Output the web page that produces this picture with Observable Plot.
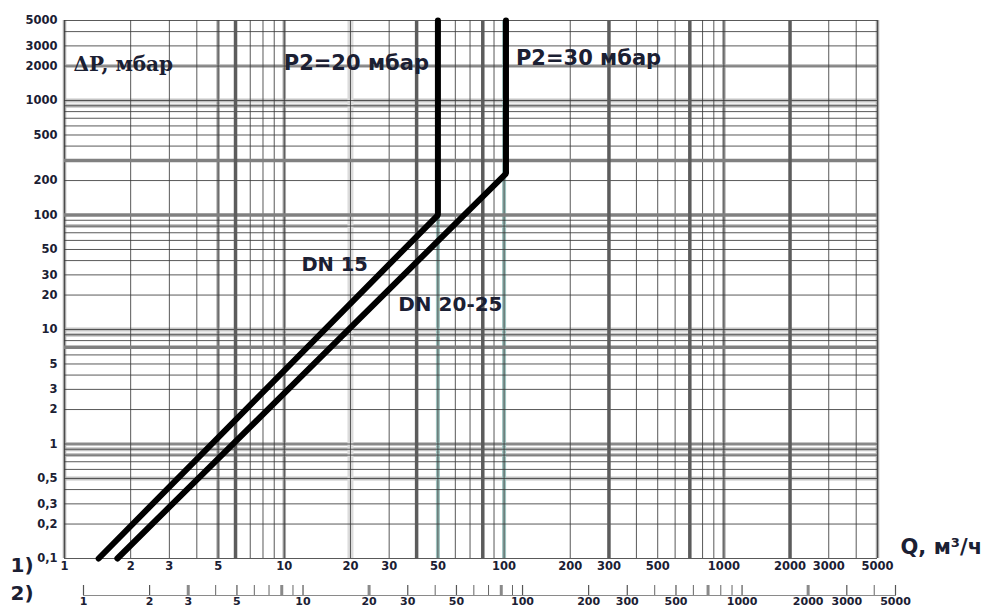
<!DOCTYPE html>
<html><head><meta charset="utf-8">
<script src="https://cdn.jsdelivr.net/npm/d3@7"></script>
<script src="https://cdn.jsdelivr.net/npm/@observablehq/plot@0.6"></script>
<style>
html,body{margin:0;padding:0;background:#fff;}
#chart svg{display:block;}
</style></head><body><div id="chart"></div>
<script>
// ---- data ----
const qGrid = [1,2,3,4,5,6,7,8,9,10,20,30,40,50,60,70,80,90,100,200,300,400,500,600,700,800,900,1000,2000,3000,4000,5000];
const qGridPale = [1,5,10,1000,5000];
const qGridFaint = [20];
const qGridHeavy = [6,40,80,300,700,2000];
const qGridTeal = [50,100];
const pGrid = [0.1,0.2,0.3,0.4,0.5,0.6,0.7,0.8,0.9,1,2,3,4,5,6,7,8,9,10,20,30,40,50,60,70,80,90,100,200,300,400,500,600,700,800,900,1000,2000,3000,4000,5000];
const pGridPale = [0.5,0.8,0.9,1,9,10,80,900,1000,2000];
const pGridHeavy = [7,100,300];
const pTicks = [0.1,0.2,0.3,0.5,1,2,3,5,10,20,30,50,100,200,500,1000,2000,3000,5000];
const qTicks1 = [1,2,3,5,10,20,30,50,100,200,300,500,1000,2000,3000,5000];
const qTicks2 = [1,2,3,5,10,20,30,50,100,200,300,500,1000,2000,3000,5000];
const qTicks2Minor = [4,6,7,8,9,40,60,70,80,90,400,600,700,800,900,4000];
const qTicks2Heavy = [3,8,20,80,700,2000];
const dn15 = [{q:1.43,p:0.1},{q:50,p:100},{q:50,p:5000}];
const dn2025 = [{q:1.74,p:0.1},{q:102,p:230},{q:102,p:5000}];
const regimeEnd = [{text:"P2=20 мбар", q:50, p:2100}];
const regimeStart = [{text:"P2=30 мбар", q:102, p:2350}];
const dnEnd = [{text:"DN 15", q:24, p:37}];
const dnStart = [{text:"DN 20-25", q:33, p:16.4}];

const ink = "#1b2033";
const fmt = d => String(d).replace(".", ",");
const sans = "DejaVu Sans";

const main = Plot.plot({
  width: 988, height: 580,
  marginLeft: 64, marginRight: 111, marginTop: 20, marginBottom: 22,
  x: {type: "log", domain: [1, 5000], label: null, axis: null},
  y: {type: "log", domain: [0.1, 5000], label: null, axis: null},
  style: {fontFamily: sans, color: ink, background: "#fff", overflow: "visible"},
  marks: [
    Plot.ruleY(pGridPale, {stroke: "#c4c4c4", strokeWidth: 4}),
    Plot.ruleX(qGridFaint, {stroke: "#dcdcdc", strokeWidth: 6}),
    Plot.ruleX(qGridPale, {stroke: "#a8a8a8", strokeWidth: 3.5}),
    Plot.ruleX(qGridTeal, {stroke: "#9fc3bf", strokeWidth: 4}),
    Plot.ruleY(pGrid, {stroke: "#3c3c3c", strokeWidth: 1, strokeOpacity: 0.85}),
    Plot.ruleX(qGrid, {stroke: "#3c3c3c", strokeWidth: 1, strokeOpacity: 0.85}),
    Plot.ruleY(pGridHeavy, {stroke: "#808080", strokeWidth: 3.5}),
    Plot.ruleX(qGridHeavy, {stroke: "#5c5c5c", strokeWidth: 3.5}),
    Plot.line(dn15, {x: "q", y: "p", stroke: "#000", strokeWidth: 6, strokeLinejoin: "miter"}),
    Plot.line(dn2025, {x: "q", y: "p", stroke: "#000", strokeWidth: 6, strokeLinejoin: "miter"}),
    Plot.text(pTicks, {y: d => d, text: fmt, frameAnchor: "left", dx: -7, textAnchor: "end",
      fontSize: 11.5, fontWeight: "bold", fill: ink}),
    Plot.text(qTicks1, {x: d => d, text: fmt, frameAnchor: "bottom", dy: 11,
      fontSize: 11.5, fontWeight: "bold", fill: ink}),
    Plot.text(["ΔP, мбар"], {text: d => d, frameAnchor: "top-left", dx: 9, dy: 36.5, textAnchor: "start",
      fontFamily: "DejaVu Serif", fontWeight: "bold", fontSize: 20, fill: ink}),
    Plot.text(regimeEnd, {x: "q", y: "p", text: "text", textAnchor: "end", dx: -9,
      fontWeight: "bold", fontSize: 21, fill: ink}),
    Plot.text(regimeStart, {x: "q", y: "p", text: "text", textAnchor: "start", dx: 10,
      fontWeight: "bold", fontSize: 21, fill: ink}),
    Plot.text(dnEnd, {x: "q", y: "p", text: "text", textAnchor: "end", dx: 0,
      fontWeight: "bold", fontSize: 19.5, fill: ink}),
    Plot.text(dnStart, {x: "q", y: "p", text: "text", textAnchor: "start", dx: 0,
      fontWeight: "bold", fontSize: 20, fill: ink}),
    Plot.text(["Q, м³/ч"], {text: d => d, frameAnchor: "bottom-right", dx: 23, dy: -5, textAnchor: "start",
      fontWeight: "bold", fontSize: 21, fill: ink}),
    Plot.text(["1)"], {text: d => d, frameAnchor: "bottom-left", dx: -54, dy: 13.5, textAnchor: "start",
      fontWeight: "bold", fontSize: 20, fill: ink})
  ]
});

const axis2 = Plot.plot({
  width: 988, height: 32,
  marginLeft: 83, marginRight: 93, marginTop: 5, marginBottom: 17,
  x: {type: "log", domain: [1, 5000], label: null, axis: null},
  style: {fontFamily: sans, color: ink, background: "#fff", overflow: "visible"},
  marks: [
    Plot.frame({anchor: "bottom", stroke: "#8a8a8a"}),
    Plot.tickX(qTicks2Minor, {x: d => d, stroke: "#666", strokeWidth: 1}),
    Plot.tickX(qTicks2, {x: d => d, stroke: "#555", strokeWidth: 1.2}),
    Plot.tickX(qTicks2Heavy, {x: d => d, stroke: "#8a8a8a", strokeWidth: 3}),
    Plot.text(qTicks2, {x: d => d, text: fmt, frameAnchor: "bottom", dy: 9,
      fontSize: 11, fontWeight: "bold", fill: ink}),
    Plot.text(["2)"], {text: d => d, frameAnchor: "bottom-left", dx: -73, dy: 4, textAnchor: "start",
      fontWeight: "bold", fontSize: 20, fill: ink})
  ]
});

const el = document.getElementById("chart");
el.append(main);
el.append(axis2);
</script>
</body></html>
